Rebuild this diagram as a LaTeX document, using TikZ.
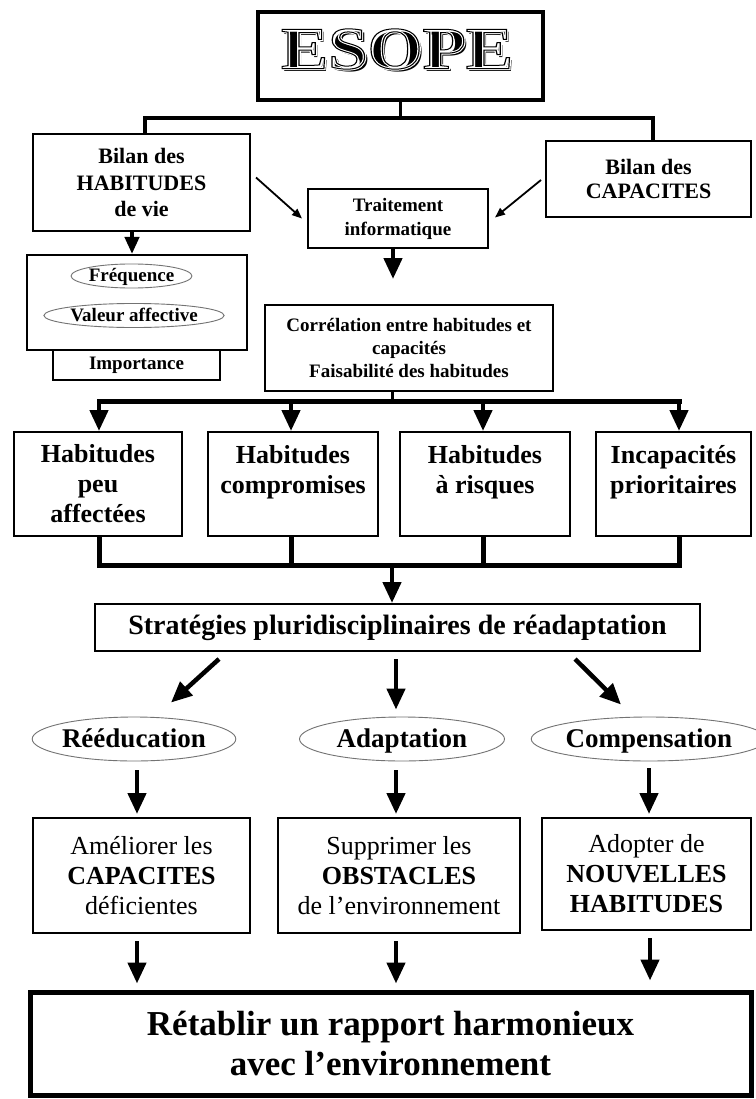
\documentclass[tikz,border=0pt]{standalone}
\usepackage{fontspec}
\setmainfont{Liberation Serif}
\usetikzlibrary{arrows.meta,calc,shapes.geometric}
\newcommand{\setfs}[2]{\fontsize{#1}{#2}\selectfont}
\newcommand{\esopeword}{\scalebox{1.18}[1]{\fontsize{60}{60}\selectfont\bfseries ESOPE}}
\newcommand{\strokeon}[1]{\special{pdf:literal direct 1 Tr #1 w}}
\newcommand{\strokeoff}{\special{pdf:literal direct 0 Tr}}
\begin{document}
\begin{tikzpicture}[x=1pt,y=-1pt,
  box/.style={draw, line width=2pt, inner sep=0pt, align=center, font=\bfseries},
  oval/.style={ellipse, draw=black!55, line width=0.9pt, inner sep=0pt, align=center},
  bigoval/.style={oval, minimum height=44pt, text height=20pt, text depth=4pt, font=\bfseries\setfs{27}{30}},
  smalloval/.style={oval, text height=14pt, text depth=3pt, font=\bfseries\setfs{19}{20}},
  bigarrow/.style={line width=4.5pt, -{Triangle[length=21pt,width=18pt]}},
  midarrow/.style={line width=4pt, -{Triangle[length=17pt,width=14pt]}},
  thinarrow/.style={line width=1.8pt, -{Triangle[length=10pt,width=8pt]}},
  bus/.style={line width=5pt, line cap=rect},
  topline/.style={line width=3.5pt, line cap=rect},
]
\useasboundingbox (0,0) rectangle (755,1099);
\fill[white] (0,0) rectangle (755,1099);

% ---------- title ----------
\node[box, line width=4pt, minimum width=285pt, minimum height=88pt] (esope) at (400.5,56) {};
\coordinate (ep) at (397,49);
\node[inner sep=0pt, text=black] (eshadow) at ([xshift=3pt,yshift=-3pt]ep) {\esopeword};
\node[inner sep=0pt, text=white] (ehalo) at (ep) {\strokeon{3}\esopeword\strokeoff};
\node[inner sep=0pt, text=black] (eline) at (ep) {\strokeon{1}\esopeword\strokeoff};

% ---------- upper boxes ----------
\node[box, minimum width=217pt, minimum height=97pt, font=\bfseries\setfs{22}{26.5}] (habit) at (141.5,182.5) {Bilan des\\HABITUDES\\de vie};
\node[box, minimum width=205pt, minimum height=76pt, font=\bfseries\setfs{22}{24}] (capac) at (648.5,179) {Bilan des\\CAPACITES};
\node[box, minimum width=180pt, minimum height=59pt, font=\bfseries\setfs{19}{24}] (trait) at (398,218.5) {Traitement\\informatique};
\node[box, minimum width=220pt, minimum height=95pt] (freqbox) at (137,302.5) {};
\node[smalloval, minimum width=103pt, minimum height=23pt] (freq) at (131.5,276) {Fréquence};
\node[smalloval, minimum width=162pt, minimum height=22pt] (valeur) at (134,315.5) {Valeur affective};
\node[box, minimum width=167pt, minimum height=30pt, font=\bfseries\setfs{19}{20}] (imp) at (136.5,365) {Importance};
\node[box, minimum width=288pt, minimum height=86pt, font=\bfseries\setfs{19}{23}] (correl) at (409,348) {Corrélation entre habitudes et\\capacités\\Faisabilité des habitudes};

% ---------- row of four ----------
\node[box, minimum width=168pt, minimum height=104pt, font=\bfseries\setfs{26}{30}] (r1) at (98,484) {Habitudes\\peu\\affectées};
\node[box, minimum width=170pt, minimum height=104pt, font=\bfseries\setfs{26}{30}] (r2) at (293,484) {Habitudes\\compromises\\\mbox{}};
\node[box, minimum width=170pt, minimum height=104pt, font=\bfseries\setfs{26}{30}] (r3) at (485,484) {Habitudes\\à risques\\\mbox{}};
\node[box, minimum width=155pt, minimum height=104pt, font=\bfseries\setfs{26}{30}] (r4) at (673.5,484) {Incapacités\\prioritaires\\\mbox{}};

% ---------- strategies ----------
\node[box, minimum width=605pt, minimum height=47pt, font=\bfseries\setfs{28}{30}] (strat) at (397.5,627.5) {Stratégies pluridisciplinaires de réadaptation};

\node[bigoval, minimum width=192pt] (reed) at (134,739) {Rééducation};
\node[bigoval, minimum width=205pt] (adapt) at (402,739) {Adaptation};
\node[bigoval, minimum width=207pt] (comp) at (649,739) {Compensation};

\node[box, minimum width=217pt, minimum height=115pt, font=\setfs{26}{30}] (bA) at (141.5,875.5) {Améliorer les\\\textbf{CAPACITES}\\déficientes};
\node[box, minimum width=242pt, minimum height=115pt, font=\setfs{26}{30}] (bB) at (399,875.5) {Supprimer les\\\textbf{OBSTACLES}\\de l’environnement};
\node[box, minimum width=209pt, minimum height=112pt, font=\setfs{26}{30}] (bC) at (646.5,874) {Adopter de\\\textbf{NOUVELLES}\\\textbf{HABITUDES}};

\node[box, line width=5pt, minimum width=721pt, minimum height=103pt, font=\bfseries\setfs{35}{40}] (final) at (390.5,1043.5) {Rétablir un rapport harmonieux\\avec l’environnement};

% ---------- connectors ----------
\coordinate (jt) at (400.5,118);
\coordinate (jh) at (145,118);
\coordinate (jc) at (653,118);
\draw[topline] (esope.south) -- (jt);
\draw[topline] (habit.north -| jh) -- (jh) -- (jc) -- (capac.north -| jc);

\coordinate (ah) at (132,0);
\draw[midarrow] (habit.south -| ah) -- (freqbox.north -| ah);
\draw[thinarrow] ($(habit.east)+(5,-5)$) -- ($(trait.west)+(-5,0)$);
\draw[thinarrow] ($(capac.west)+(-4,1)$) -- ($(trait.east)+(6,-1)$);
\draw[bigarrow] ($(trait.south)+(-5,0)$) -- ($(correl.north)+(-16,-25)$);

\coordinate (b0) at (392,401);
\coordinate (b1) at (99,401);
\coordinate (b2) at (291,401);
\coordinate (b3) at (483,401);
\coordinate (b4) at (679,401);
\draw[line width=3pt] (correl.south -| b0) -- (b0);
\draw[bus] (b1) -- (b4);
\draw[bigarrow] (b1) -- (r1.north -| b1);
\draw[bigarrow] (b2) -- (r2.north -| b2);
\draw[bigarrow] (b3) -- (r3.north -| b3);
\draw[bigarrow] (b4) -- (r4.north -| b4);

\coordinate (c0) at (392,565);
\coordinate (c1) at (99,565);
\coordinate (c2) at (291,565);
\coordinate (c3) at (483,565);
\coordinate (c4) at (679,565);
\draw[bus] (r1.south -| c1) -- (c1) -- (c4) -- (r4.south -| c4);
\draw[bus] (r2.south -| c2) -- (c2);
\draw[bus] (r3.south -| c3) -- (c3);
\draw[bigarrow] (c0) -- (strat.north -| c0);

\draw[bigarrow] ($(strat.south)+(-178.5,7)$) -- ($(reed.north)+(37,-14)$);
\draw[bigarrow] ($(strat.south)+(-1.5,7)$) -- ($(adapt.north)+(-6,-7)$);
\draw[bigarrow] ($(strat.south)+(177.5,7)$) -- ($(comp.north)+(-28,-12)$);

\draw[bigarrow] ($(reed.south)+(3,9)$) -- ($(bA.north)+(-4.5,-3)$);
\draw[bigarrow] ($(adapt.south)+(-6,9)$) -- ($(bB.north)+(-3,-3)$);
\draw[bigarrow] ($(comp.south)+(0,7)$) -- ($(bC.north)+(2.5,-3)$);

\draw[bigarrow] ($(bA.south)+(-4.5,7)$) -- ($(bA.south |- final.north)+(-4.5,-6)$);
\draw[bigarrow] ($(bB.south)+(-3,7)$) -- ($(bB.south |- final.north)+(-3,-6)$);
\draw[bigarrow] ($(bC.south)+(3.5,7)$) -- ($(bC.south |- final.north)+(3.5,-9)$);
\end{tikzpicture}
\end{document}
